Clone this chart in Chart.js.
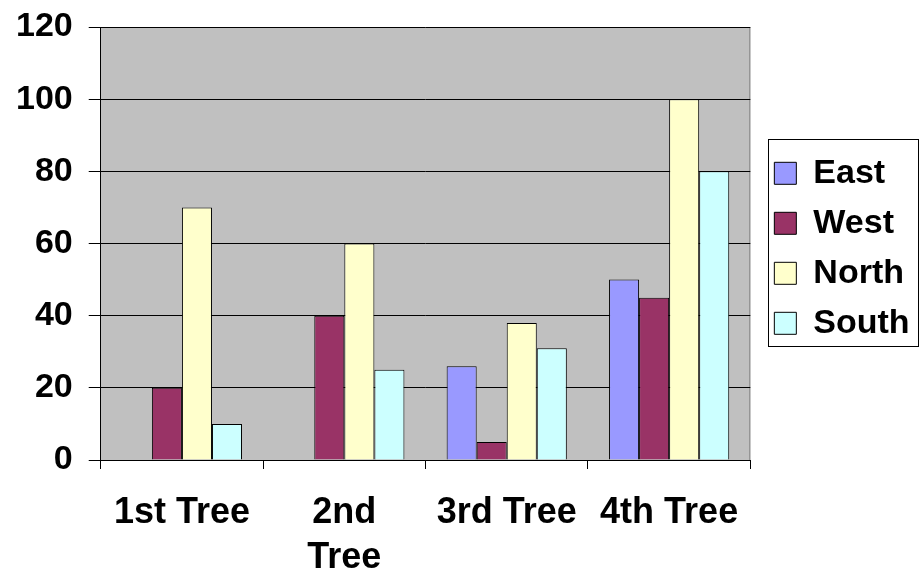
<!DOCTYPE html>
<html>
<head>
<meta charset="utf-8">
<script src="https://cdn.jsdelivr.net/npm/chart.js@4/dist/chart.umd.min.js"></script>
<style>
  html, body { margin: 0; padding: 0; background: #ffffff; }
  #wrap { width: 920px; height: 573px; position: relative; }
</style>
</head>
<body>
<div id="wrap"><canvas id="c"></canvas></div>
<script>
// Categories and series values
const categories = ['1st Tree', ['2nd', 'Tree'], '3rd Tree', '4th Tree'];
const east  = [0, 0, 26, 50];
const west  = [20, 40, 5, 45];
const north = [70, 60, 38, 100];
const south = [10, 25, 31, 80];
const yTicks = [0, 20, 40, 60, 80, 100, 120];

const FONT = "'Liberation Sans', Arial, sans-serif";

// Grey plot area behind the bars
const plotBackground = {
  id: 'plotBackground',
  beforeDraw(chart) {
    const { ctx, chartArea: a } = chart;
    ctx.save();
    ctx.fillStyle = '#c0c0c0';
    ctx.fillRect(a.left, a.top, a.right - a.left, a.bottom - a.top);
    ctx.strokeStyle = '#808080';
    ctx.lineWidth = 1;
    ctx.beginPath();
    ctx.moveTo(a.right - 0.5, a.top);
    ctx.lineTo(a.right - 0.5, a.bottom);
    ctx.stroke();
    ctx.restore();
  }
};

// Frame around the legend entries
const legendFrame = {
  id: 'legendFrame',
  afterDraw(chart) {
    const boxes = chart.legend && chart.legend.legendHitBoxes;
    if (!boxes || !boxes.length) return;
    const left = Math.min(...boxes.map(b => b.left)) - 6;
    const right = 918;
    const top = Math.min(...boxes.map(b => b.top)) - 17;
    const bottom = Math.max(...boxes.map(b => b.top + b.height)) + 6;
    const ctx = chart.ctx;
    ctx.save();
    ctx.strokeStyle = '#000';
    ctx.lineWidth = 1;
    ctx.strokeRect(Math.round(left) + 0.5, Math.round(top) + 0.5, Math.round(right - left), Math.round(bottom - top));
    ctx.restore();
  }
};

const ds = (label, data, color) => ({
  label, data,
  backgroundColor: color,
  borderColor: '#000',
  borderWidth: 1,
  borderSkipped: 'start',
  categoryPercentage: 0.74,
  barPercentage: 1.0
});

new Chart(document.getElementById('c'), {
  type: 'bar',
  data: {
    labels: categories,
    datasets: [
      ds('East', east, '#9999ff'),
      ds('West', west, '#993366'),
      ds('North', north, '#ffffcc'),
      ds('South', south, '#ccffff')
    ]
  },
  options: {
    responsive: true,
    maintainAspectRatio: false,
    animation: false,
    layout: { padding: { top: 27, left: 0, right: 10, bottom: 0 } },
    plugins: {
      tooltip: { enabled: false },
      legend: {
        position: 'right',
        fullSize: false,
        title: { display: true, text: '', font: { size: 8 }, padding: 0 },
        labels: {
          color: '#000',
          font: { family: FONT, size: 34, weight: 'bold' },
          boxWidth: 22,
          boxHeight: 22,
          padding: 16,
          useBorderRadius: false
        }
      }
    },
    scales: {
      x: {
        offset: true,
        afterFit(scale) { scale.height = 113; },
        grid: { display: true, drawOnChartArea: false, drawTicks: true, tickLength: 9, color: '#000', offset: true },
        border: { display: true, color: '#000', width: 1 },
        ticks: {
          color: '#000',
          font: { family: FONT, size: 36, weight: 'bold', lineHeight: 1.25 },
          padding: 22,
          maxRotation: 0,
          autoSkip: false
        }
      },
      y: {
        min: 0,
        max: 120,
        afterBuildTicks(scale) { scale.ticks = yTicks.map(v => ({ value: v })); },
        afterFit(scale) { scale.paddingTop = 0; },
        grid: { color: '#000', lineWidth: 1, tickLength: 12, drawTicks: true },
        border: { display: true, color: '#000', width: 1 },
        ticks: {
          color: '#000',
          font: { family: FONT, size: 34, weight: 'bold' },
          padding: 16
        }
      },
      // empty strip between the plot and the legend
      gap: {
        type: 'linear',
        position: 'right',
        display: true,
        afterFit(scale) { scale.width = 8; },
        grid: { display: false },
        border: { display: false },
        ticks: { display: false }
      }
    }
  },
  plugins: [plotBackground, legendFrame]
});
</script>
</body>
</html>
